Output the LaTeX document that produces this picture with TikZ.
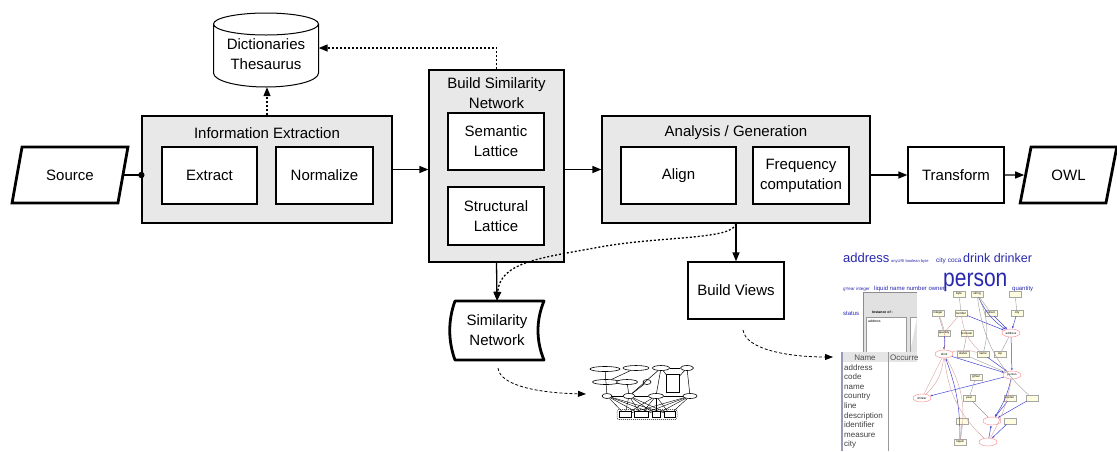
\documentclass[tikz,border=0pt]{standalone}
\usepackage{fontspec}
\setmainfont{Liberation Sans}
\usetikzlibrary{shapes.geometric,arrows.meta}
\definecolor{cloudblue}{RGB}{40,40,175}
\definecolor{edgeblue}{RGB}{70,70,210}
\definecolor{edgepink}{RGB}{215,160,160}
\definecolor{panelgray}{RGB}{225,225,225}

\begin{document}
\begin{tikzpicture}[x=1pt,y=-1pt,font=\fontsize{15}{20}\selectfont]
    \tikzstyle{group}=[draw=black,line width=1.3pt,fill=black!9,inner sep=0pt]
    \tikzstyle{proc}=[draw=black,line width=1.3pt,fill=white,align=center,inner sep=0pt]
    \tikzstyle{io}=[trapezium,trapezium left angle=65,trapezium right angle=115,trapezium stretches=true,draw=black,line width=2.8pt,fill=white,inner sep=0pt]
    \tikzstyle{flow}=[-{Triangle[length=9pt,width=7pt]},line width=1.3pt]
    \tikzstyle{lookup}=[flow,dash pattern=on 2pt off 2pt]
    \tikzstyle{preview}=[-{Triangle[length=8pt,width=6pt]},line width=0.8pt,dash pattern=on 3pt off 2pt]
    \tikzstyle{tiny}=[draw,line width=0.6pt,fill=white,inner sep=0pt,minimum height=5]
    \tikzstyle{vnode}=[draw=black!35,fill=yellow!12,font=\fontsize{3}{3}\selectfont,inner sep=0.8pt,minimum width=12,minimum height=6]
    \tikzstyle{vclass}=[ellipse,draw=red!50,fill=white,font=\fontsize{3}{3}\selectfont,inner sep=0.5pt,minimum width=18,minimum height=8]
    \tikzstyle{bl}=[edgeblue,line width=0.5pt,-{Latex[length=2.5pt,width=2pt]}]
    \tikzstyle{pk}=[edgepink,line width=0.4pt]
    \tikzstyle{gr}=[black!40,line width=0.4pt]

    \useasboundingbox (0,0) rectangle (1117,451);

    % main flow
    \node[io,minimum width=116,minimum height=56] (src) at (70,175) {Source};
    \node[group,minimum width=250,minimum height=107] (IE) at (267,169.5) {};
    \node (IE-title) at (267,133) {Information Extraction};
    \node[proc,minimum width=95,minimum height=57] (ext) at (209.5,175.5) {Extract};
    \node[proc,minimum width=97,minimum height=57] (norm) at (324.5,175.5) {Normalize};

    \node[group,minimum width=135,minimum height=192] (BSN) at (496.5,166) {};
    \node[align=center] (BSN-title) at (496.5,93) {Build Similarity\\Network};
    \node[proc,minimum width=96,minimum height=57] (sem) at (496,141.5) {Semantic\\Lattice};
    \node[proc,minimum width=96,minimum height=58] (struct) at (496,216) {Structural\\Lattice};

    \node[group,minimum width=268,minimum height=107] (AG) at (736,169.5) {};
    \node (AG-title) at (736,133) {Analysis / Generation};
    \node[proc,minimum width=115,minimum height=57] (align) at (678.5,175.5) {Align};
    \node[proc,minimum width=96,minimum height=57] (freq) at (801,175.5) {Frequency\\computation};

    \node[proc,minimum width=96,minimum height=56] (trans) at (956,175) {Transform};
    \node[io,minimum width=97,minimum height=56] (owl) at (1068.5,175) {OWL};

    \node[align=center,minimum width=105,minimum height=66,inner sep=0pt] (dict) at (266,54) {Dictionaries\\Thesaurus};
    \draw[line width=1pt] (213.5,24) -- (213.5,73) arc[start angle=180,end angle=360,x radius=52.5pt,y radius=14pt]
        -- (318.5,24) arc[start angle=0,end angle=180,x radius=52.5pt,y radius=11pt]
        arc[start angle=180,end angle=360,x radius=52.5pt,y radius=11pt];

    \node[proc,minimum width=96,minimum height=57] (views) at (736,290.5) {Build Views};
    \node[align=center,minimum width=94,minimum height=59,inner sep=0pt] (simnet) at (497,330.5) {Similarity\\Network};
    \draw[line width=2.8pt,line join=round] (455,301) -- (544,301) .. controls (536,320) and (536,341) .. (544,360)
        -- (455,360) .. controls (448,341) and (448,320) .. cycle;

    \draw[line width=1.3pt] (src.east) -- (src.east -| IE.west);
    \fill (src.east -| IE.west) circle (3.2);
    \draw[flow] (IE.east) -- (BSN.west |- IE.east);
    \draw[flow] (BSN.east |- AG.west) -- (AG.west);
    \draw[flow] (AG.east |- trans.west) -- (trans.west);
    \draw[flow] (trans) -- (owl);
    \draw[flow] (AG.south) -- (views.north);
    \draw[flow] (BSN.south) -- (simnet.north);
    \draw[lookup] (IE.north) -- (IE.north |- dict.south);
    \draw[lookup] (BSN.north) |- ([yshift=6pt]dict.east);
    \draw[lookup] (AG.south) .. controls (733,240) and (660,236) .. (600,247) .. controls (540,258) and (500,262) .. (simnet.north);

    % previews
    \coordinate (sn-out) at (498,368);
    \coordinate (t-in) at (586,394);
    \draw[preview] (sn-out) .. controls (500,386) and (540,393) .. (t-in);
    \coordinate (bv-out) at (743,330);
    \coordinate (v-in) at (833,357);
    \draw[preview] (bv-out) .. controls (746,350) and (790,357) .. (v-in);

    % network thumbnail
    \foreach \name/\x/\y/\w in {a1/605/369/30, a2/636/368/26, a3/661/368/17, a4/687/368/13, b1/606/382/27, b2/627/382/21, b3/647/382/8, c1/607/396/10, c2/629/396/12, c3/656/396/15, c4/690/396/14}
        \node[tiny,ellipse,minimum width=\w] (t-\name) at (\x,\y) {};
    \node[tiny,minimum width=13,minimum height=18] (t-stack) at (673,383) {};
    \node[draw,dash pattern=on 1pt off 1pt,rounded corners=2pt,line width=0.5pt,minimum width=60,minimum height=10] (t-grp) at (647,414.5) {};
    \foreach \name/\x/\w in {d1/625/12, d2/641/14, d3/656/8, d4/670/11}
        \node[tiny,minimum width=\w,minimum height=6] (t-\name) at (\x,414.5) {};
    \foreach \from/\to in {a1/c1, a2/b1, b2/c2, b3/c2, a3/c2, a3/c3, a3/a4, a4/c4, a3/stack, a4/stack, c1/c2, c2/c3, c3/c4}
        \draw[line width=0.5pt] (t-\from) -- (t-\to);
    \foreach \from in {c1,c2,c3,c4}
        \foreach \to in {d1,d2,d3,d4}
            \draw[line width=0.4pt] (t-\from) -- (t-\to);

    % views screenshot
    \node[anchor=base west,inner sep=0pt,text=cloudblue,font=\fontsize{13}{13}\selectfont] (w-1) at (843,262) {address};
    \node[anchor=base west,inner sep=0pt,text=cloudblue,font=\fontsize{4}{4}\selectfont] (w-2) at (891,262) {anyURI boolean byte};
    \node[anchor=base west,inner sep=0pt,text=cloudblue,font=\fontsize{6.5}{6.5}\selectfont] (w-3) at (936,262) {city coca};
    \node[anchor=base west,inner sep=0pt,text=cloudblue,font=\fontsize{12.5}{12.5}\selectfont] (w-4) at (963,262) {drink drinker};
    \node[anchor=base west,inner sep=0pt,text=cloudblue,font=\fontsize{4.5}{4.5}\selectfont] (w-5) at (843,290) {gYear integer};
    \node[anchor=base west,inner sep=0pt,text=cloudblue,font=\fontsize{6}{6}\selectfont] (w-6) at (874,290) {liquid name number owner};
    \node[anchor=base west,inner sep=0pt,text=cloudblue,font=\fontsize{25}{25}\selectfont] (w-7) at (943,286) {\scalebox{0.84}[1]{person}};
    \node[anchor=base west,inner sep=0pt,text=cloudblue,font=\fontsize{6}{6}\selectfont] (w-8) at (1012,290) {quantity};
    \node[anchor=base west,inner sep=0pt,text=cloudblue,font=\fontsize{6}{6}\selectfont] (w-9) at (843,315) {status};

    \fill[panelgray] (863,292) rectangle (917,352);
    \draw[black!45,line width=0.5pt] (863,352) |- (917,292);
    \draw[black!40,line width=0.4pt,fill=white] (866,352) |- (906,317) -- (906,352);
    \draw[black!40,line width=0.4pt,fill=white] (910,352) |- (917,317);
    \node[anchor=west,inner sep=0pt,font=\bfseries\fontsize{3.5}{3.5}\selectfont] (inst) at (872,312) {Instance of :};
    \node[anchor=west,inner sep=0pt,font=\fontsize{3.5}{3.5}\selectfont] (inst-a) at (868,321) {address};

    \fill[white] (842,352) rectangle (917,451);
    \fill[black!10] (842,352) rectangle (917,362);
    \draw[black!40,line width=0.5pt] (888,352) -- (888,451);
    \draw[blue!30!black!40,line width=1.2pt] (842,352) -- (842,451);
    \node[font=\fontsize{8}{8}\selectfont,text=black!70] (col-1) at (865,357.5) {Name};
    \begin{scope}
        \clip (888,352) rectangle (917,362);
        \node[anchor=west,inner sep=0pt,font=\fontsize{8}{8}\selectfont,text=black!70] (col-2) at (890,357.5) {Occurrences};
    \end{scope}
    \foreach \w [count=\i from 0] in {address,code,name,country,line,description,identifier,measure,city}
        \node[anchor=base west,inner sep=0pt,font=\fontsize{8}{8}\selectfont,text=black!75] (row-\i) at (844,370+9.6*\i) {\w};

    \foreach \name/\x/\y/\st/\txt in {byte/959/294/vnode/byte, string/977/294/vnode/string, future/1015/294/vnode/, integer/938/313/vnode/integer,
        number/961/313/vnode/number, street/991/313/vnode/street, city/1017/313/vnode/city, quantity/944/333/vnode/quantity,
        boolean/967/333/vnode/boolean, address/1011/333/vclass/address, drink/944/354/vclass/drink, status/963/354/vnode/status,
        name/983/354/vnode/name, zip/1000/354/vnode/zip, gYear/976/377/vnode/gYear, person/1012/375/vclass/person,
        drinker/922/398/vclass/drinker, year/969/398/vnode/year, owner/1010/398/vnode/owner, sleeper/1032/398/vnode/,
        c1/992/421/vclass/, c2/1010/421/vnode/, q2/962/421/vnode/, liquid/960/442/vnode/liquid, wine/988/442/vclass/}
        \node[\st] (v-\name) at (\x,\y) {\txt};
    \foreach \from/\to/\st/\b in {number/address/bl/0, street/address/bl/0, city/address/bl/0, string/address/bl/-15,
        quantity/drink/bl/0, address/person/bl/0, drink/person/bl/0, name/person/bl/0, person/drinker/bl/0,
        person/c1/bl/10, owner/c1/bl/0, sleeper/c1/bl/0, year/c1/gr/0, liquid/drink/bl/-10, c2/wine/bl/0, wine/c1/bl/0,
        string/street/gr/0, byte/number/gr/0, integer/quantity/gr/0, future/city/gr/0, boolean/status/gr/0,
        zip/address/gr/0, gYear/year/gr/0, q2/liquid/gr/0, status/person/gr/0, string/sleeper/gr/-20, string/name/gr/20,
        number/quantity/pk/0, drink/drinker/pk/0, drink/wine/pk/-20, drink/name/pk/15, number/name/pk/-20,
        drink/liquid/pk/20, integer/drink/pk/15, person/wine/pk/10, drinker/drink/pk/-20}
        \draw[\st] (v-\from) to[bend left=\b] (v-\to);
\end{tikzpicture}
\end{document}
